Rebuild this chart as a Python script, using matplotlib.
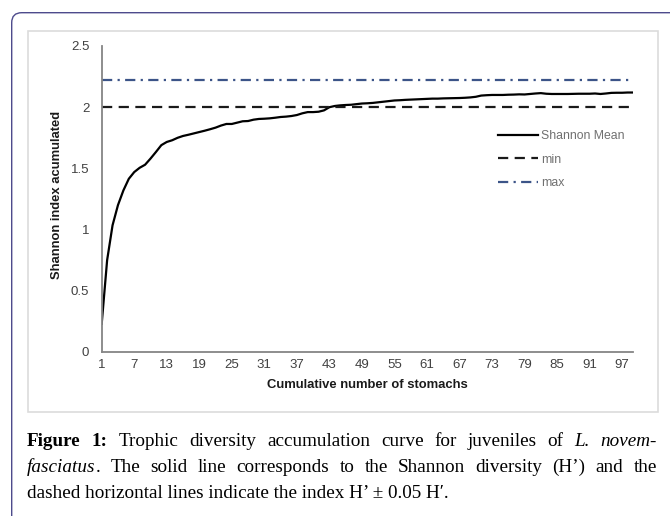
import matplotlib
matplotlib.use('Agg')
import matplotlib.pyplot as plt
from matplotlib.patches import FancyBboxPatch, Rectangle

# cumulative number of stomachs and accumulated Shannon index
stomachs = list(range(1, 100))
shannon_mean = [
    0.23, 0.75, 1.035, 1.20, 1.32, 1.415, 1.47, 1.505, 1.53, 1.58,
    1.634, 1.69, 1.716, 1.73, 1.75, 1.765, 1.775, 1.786, 1.797, 1.808,
    1.82, 1.833, 1.85, 1.863, 1.863, 1.874, 1.885, 1.887, 1.898, 1.904,
    1.906, 1.909, 1.914, 1.92, 1.923, 1.928, 1.936, 1.95, 1.96, 1.96,
    1.963, 1.974, 2.0, 2.01, 2.015, 2.018, 2.02, 2.025, 2.03, 2.032,
    2.035, 2.04, 2.045, 2.05, 2.055, 2.057, 2.06, 2.062, 2.064, 2.066,
    2.068, 2.07, 2.07, 2.072, 2.073, 2.074, 2.075, 2.077, 2.08, 2.085,
    2.095, 2.098, 2.1, 2.1, 2.1, 2.102, 2.103, 2.105, 2.104, 2.108,
    2.112, 2.115, 2.11, 2.108, 2.108, 2.108, 2.108, 2.109, 2.11, 2.11,
    2.11, 2.112, 2.108, 2.112, 2.117, 2.118, 2.118, 2.12, 2.12,
]
h_min = 2.0
h_max = 2.22

x_ticks = list(range(1, 98, 6))
y_ticks = [0, 0.5, 1, 1.5, 2, 2.5]
y_tick_labels = ['0', '0.5', '1', '1.5', '2', '2.5']

W, H = 670, 516
sans = ['Liberation Sans', 'DejaVu Sans']
serif = ['Liberation Serif', 'DejaVu Serif']

fig = plt.figure(figsize=(W / 100, H / 100), dpi=100)

# outer rounded frame (cut off at the right and bottom) and the light chart box
frame = FancyBboxPatch((11.7 / 100, -0.3), 7.0, (H - 12.7) / 100 + 0.3,
                       boxstyle='round,pad=0,rounding_size=0.1',
                       transform=fig.dpi_scale_trans, fill=False,
                       edgecolor='#4d4b8c', lw=1.0)
fig.patches.append(frame)
box = Rectangle((28 / W, 1 - 412 / H), (658 - 28) / W, (412 - 30.7) / H,
                transform=fig.transFigure, fill=False, edgecolor='#dcdcdc', lw=1.2)
fig.patches.append(box)

ax = fig.add_axes([101.7 / W, 1 - 352 / H, (633 - 101.7) / W, (352 - 46) / H])
ax.plot(stomachs, shannon_mean, color='black', lw=1.6, label='Shannon Mean')
ax.plot([stomachs[0], stomachs[-1]], [h_min, h_min], color='#1a1a1a', lw=1.6,
        dashes=(4.6, 2.9), label='min')
ax.plot([stomachs[0], stomachs[-1]], [h_max, h_max], color='#3c5488', lw=1.6,
        dashes=(4.6, 2.4, 1.0, 2.4), label='max')

ax.set_xlim(1, 99)
ax.set_ylim(0, 2.5)
ax.set_xticks(x_ticks)
ax.set_yticks(y_ticks)
ax.set_yticklabels(y_tick_labels)
ax.tick_params(axis='both', length=0, labelsize=9.5, labelcolor='#404040')
ax.tick_params(axis='y', pad=9)
ax.tick_params(axis='x', pad=5)
for sp in ['top', 'right']:
    ax.spines[sp].set_visible(False)
for sp in ['left', 'bottom']:
    ax.spines[sp].set_color('#858585')
    ax.spines[sp].set_linewidth(1.3)
for lab in ax.get_xticklabels() + ax.get_yticklabels():
    lab.set_family(sans)

ax.set_xlabel('Cumulative number of stomachs', fontsize=9.4, fontweight='bold',
              family=sans, color='#1a1a1a')
ax.set_ylabel('Shannon index acumulated', fontsize=9.4, fontweight='bold',
              family=sans, color='#1a1a1a')
ax.xaxis.set_label_coords(0.5, (352 - 385) / 306)
ax.xaxis.label.set_va('center')
ax.yaxis.set_label_coords((57 - 101.7) / 531.3, (352 - 195) / 306)
ax.yaxis.label.set_va('center')

leg = ax.legend(loc='upper left', bbox_to_anchor=((498 - 101.7) / 531.3, (352 - 130) / 306),
                frameon=False, prop={'family': sans, 'size': 8.8},
                handlelength=3.3, handletextpad=0.2, labelspacing=0.95,
                borderpad=0, borderaxespad=0)
for t in leg.get_texts():
    t.set_color('#707070')

# caption below the chart, justified like the original
fig.canvas.draw()
renderer = fig.canvas.get_renderer()
CAP = 13.8


def styled(txt, st):
    return dict(s=txt, fontsize=CAP, family=serif,
                weight='bold' if st == 'b' else 'normal',
                style='italic' if st == 'i' else 'normal')


def justified(words, ybase, x0=27, x1=657):
    placed = []
    widths = []
    for word in words:
        pieces = []
        w = 0
        for txt, st in word:
            kw = styled(txt, st)
            t = fig.text(0, 1 - ybase / H, kw.pop('s'), va='baseline', ha='left', **kw)
            bb = t.get_window_extent(renderer)
            pieces.append((t, w))
            w += bb.width
        placed.append(pieces)
        widths.append(w)
    gap = (x1 - x0 - sum(widths)) / (len(words) - 1)
    x = x0
    for pieces, w in zip(placed, widths):
        for t, off in pieces:
            t.set_x((x + off) / W)
        x += w + gap


line1 = [[('Figure', 'b')], [('1:', 'b')], [('Trophic', 'n')], [('diversity', 'n')],
         [('accumulation', 'n')], [('curve', 'n')], [('for', 'n')], [('juveniles', 'n')],
         [('of', 'n')], [('L.', 'i')], [('novem-', 'i')]]
line2 = [[('fasciatus', 'i'), ('.', 'n')], [('The', 'n')], [('solid', 'n')], [('line', 'n')],
         [('corresponds', 'n')], [('to', 'n')], [('the', 'n')], [('Shannon', 'n')],
         [('diversity', 'n')], [('(H’)', 'n')], [('and', 'n')], [('the', 'n')]]
justified(line1, 446)
justified(line2, 472)
fig.text(27 / W, 1 - 498 / H, 'dashed horizontal lines indicate the index H’ ± 0.05 H′.',
         va='baseline', ha='left', fontsize=CAP, family=serif)

fig.savefig('out.png', dpi=100)
